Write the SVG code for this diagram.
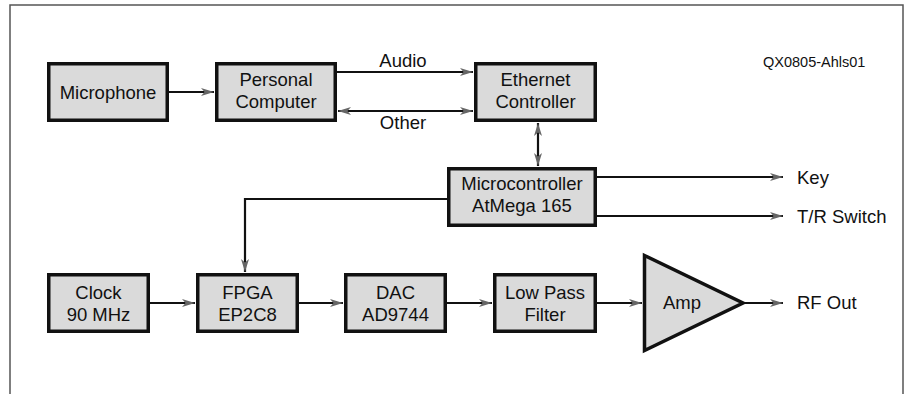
<svg xmlns="http://www.w3.org/2000/svg" width="907" height="394" viewBox="0 0 907 394">
<style>
.box{fill:#dadada;stroke:#111;stroke-width:3.5}
.t{font-family:"Liberation Sans",Arial,sans-serif;font-size:18.5px;fill:#111;text-anchor:middle}
.l{font-family:"Liberation Sans",Arial,sans-serif;font-size:18.5px;fill:#111}
.c{fill:none;stroke:#111;stroke-width:2.2}
</style>
<defs>
<marker id="ah" markerUnits="userSpaceOnUse" markerWidth="14" markerHeight="10" refX="13" refY="4.5" orient="auto-start-reverse">
<path d="M0,0.5 L13,4.5 L0,8.5 L3.5,4.5 z" fill="#666"/>
</marker>
</defs>
<rect width="907" height="394" fill="#fff"/>
<path d="M10,394 V5 H903 V394" fill="none" stroke="#555" stroke-width="1.5"/>
<text x="763" y="67" font-family="'Liberation Sans',Arial,sans-serif" font-size="14.5" fill="#111">QX0805-Ahls01</text>

<g id="connectors">
<line class="c" x1="169" y1="92" x2="214" y2="92" marker-end="url(#ah)"/>
<line class="c" x1="337" y1="72" x2="473" y2="72" marker-end="url(#ah)"/>
<line class="c" x1="338" y1="111" x2="473" y2="111" marker-start="url(#ah)" marker-end="url(#ah)"/>
<line class="c" x1="538" y1="123" x2="538" y2="166" marker-start="url(#ah)" marker-end="url(#ah)"/>
<line class="c" x1="597" y1="177" x2="783" y2="177" marker-end="url(#ah)"/>
<line class="c" x1="597" y1="216" x2="783" y2="216" marker-end="url(#ah)"/>
<polyline class="c" points="447,199 245,199 245,272" marker-end="url(#ah)"/>
<line class="c" x1="150" y1="303" x2="195" y2="303" marker-end="url(#ah)"/>
<line class="c" x1="299" y1="303" x2="343" y2="303" marker-end="url(#ah)"/>
<line class="c" x1="447" y1="303" x2="492" y2="303" marker-end="url(#ah)"/>
<line class="c" x1="597" y1="303" x2="642" y2="303" marker-end="url(#ah)"/>
<line class="c" x1="745" y1="303" x2="783" y2="303" marker-end="url(#ah)"/>
<text class="t" x="403" y="67">Audio</text>
<text class="t" x="403" y="129">Other</text>
<text class="l" x="797" y="184">Key</text>
<text class="l" x="797" y="223">T/R Switch</text>
<text class="l" x="797" y="309">RF Out</text>
</g>

<g id="microphone">
<rect class="box" x="48.75" y="63.75" width="118.5" height="56.5"/>
<text class="t" x="108" y="98.5">Microphone</text>
</g>
<g id="pc">
<rect class="box" x="216.75" y="63.75" width="118.5" height="56.5"/>
<text class="t" x="276" y="86">Personal</text>
<text class="t" x="276" y="108">Computer</text>
</g>
<g id="ethernet">
<rect class="box" x="475.75" y="63.75" width="119.5" height="56.5"/>
<text class="t" x="535.5" y="86">Ethernet</text>
<text class="t" x="535.5" y="108">Controller</text>
</g>
<g id="micro">
<rect class="box" x="448.75" y="168.75" width="146.5" height="56.5"/>
<text class="t" x="522" y="190">Microcontroller</text>
<text class="t" x="522" y="212">AtMega 165</text>
</g>
<g id="clock">
<rect class="box" x="48.75" y="274.75" width="99.5" height="56.5"/>
<text class="t" x="98.5" y="299">Clock</text>
<text class="t" x="98.5" y="321">90 MHz</text>
</g>
<g id="fpga">
<rect class="box" x="197.75" y="274.75" width="99.5" height="56.5"/>
<text class="t" x="247.5" y="299">FPGA</text>
<text class="t" x="247.5" y="321">EP2C8</text>
</g>
<g id="dac">
<rect class="box" x="345.75" y="274.75" width="99.5" height="56.5"/>
<text class="t" x="395.5" y="299">DAC</text>
<text class="t" x="395.5" y="321">AD9744</text>
</g>
<g id="lpf">
<rect class="box" x="494.75" y="274.75" width="100.5" height="56.5"/>
<text class="t" x="545" y="299">Low Pass</text>
<text class="t" x="545" y="321">Filter</text>
</g>
<g id="amp">
<polygon class="box" points="644.5,255.5 743,303 644.5,350.5" stroke-linejoin="miter"/>
<text class="t" x="682" y="309">Amp</text>
</g>
</svg>
